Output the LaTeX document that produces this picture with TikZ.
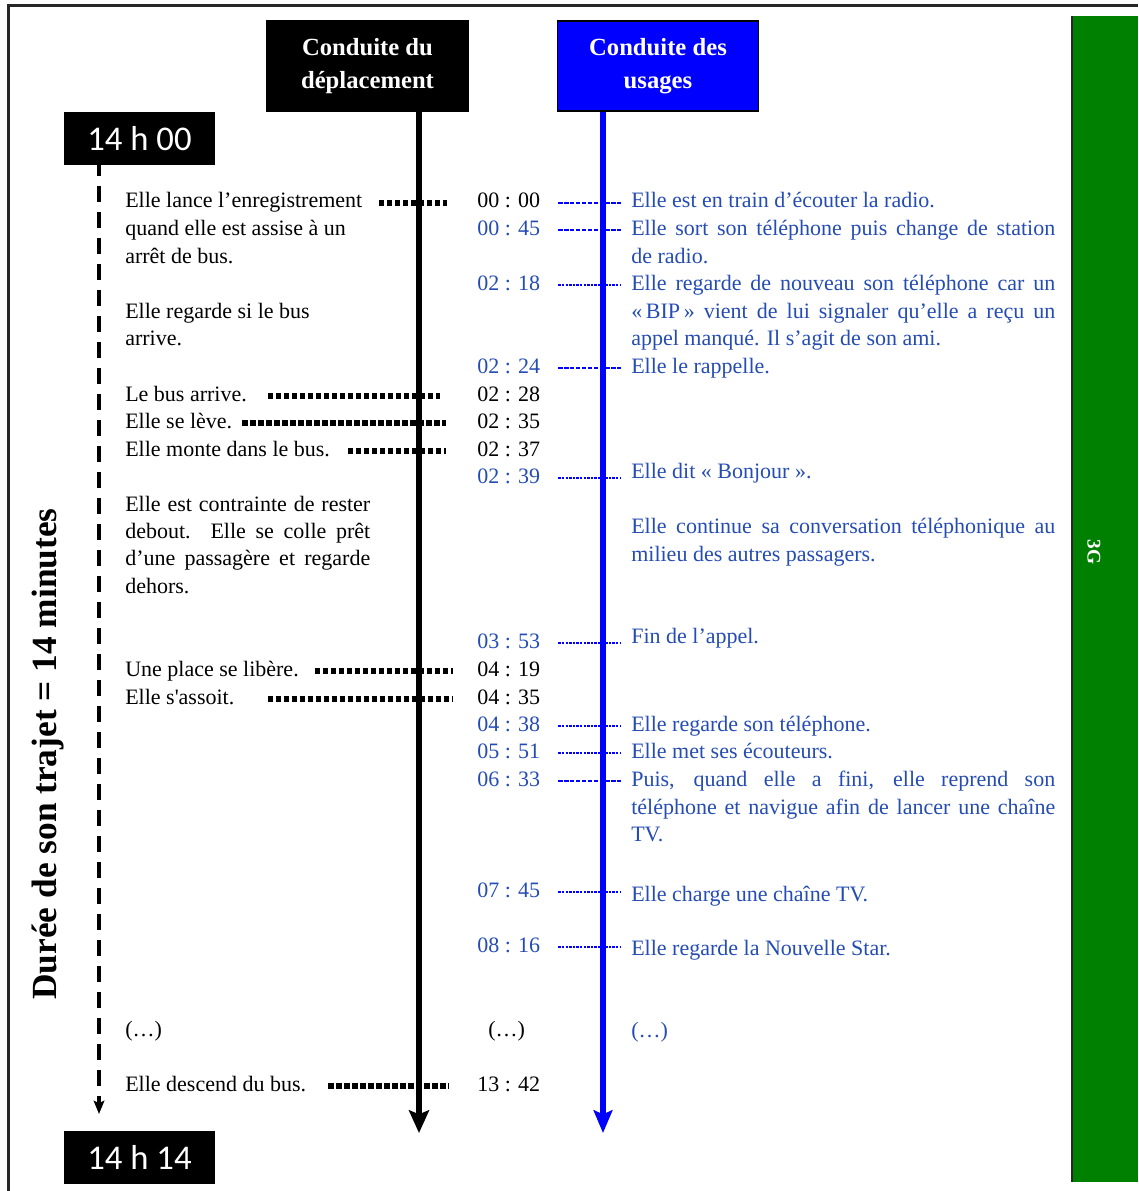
\documentclass[tikz,border=0pt]{standalone}
\usepackage{fontspec}
\setmainfont{Liberation Serif}
\newfontfamily\plainserif{Liberation Serif}
\newfontfamily\clockfont{Carlito}
\usetikzlibrary{arrows.meta}
\definecolor{tblue}{RGB}{36,76,178}
\definecolor{barblue}{RGB}{0,0,255}
\definecolor{bargreen}{RGB}{0,128,0}
\newcommand\bodyfont{\fontsize{16.5}{20}\selectfont}
\newcommand\jleft[1]{\makebox[183.75pt][s]{#1}}
\newcommand\jright[1]{\makebox[318pt][s]{#1}}
\begin{document}
\begin{tikzpicture}[x=0.75pt,y=-0.75pt,
  txt/.style={anchor=base west, inner sep=0pt, font=\bodyfont, text height=11pt, text depth=3.5pt},
  kt/.style={txt, text=black},
  bt/.style={txt, text=tblue},
  kdots/.style={line width=3.8pt, dash pattern=on 3.9pt off 2.1pt, black},
  bdash/.style={line width=2.1pt, dash pattern=on 3.2pt off 1.2pt, barblue, shorten <=13.5pt, shorten >=7.5pt},
  bdot/.style={line width=2.1pt, dash pattern=on 1.8pt off 0.9pt, barblue, shorten <=13.5pt, shorten >=7.5pt},
  headbox/.style={draw=black, line width=0.8pt, minimum width=150.75pt, minimum height=67.5pt, inner sep=0pt, align=center, text=white, font=\fontsize{18.5}{24.75}\selectfont\bfseries},
  clockbox/.style={fill=black, minimum width=113.25pt, minimum height=40pt, inner sep=0pt, text=white, font=\clockfont\fontsize{26}{30}\selectfont},
]
\useasboundingbox (0,0) rectangle (1138,1191);
% frame
\draw[line width=1.6pt, black!85] (8.5,1191) -- (8.5,5.5) -- (1138,5.5);
% green bar
\fill[bargreen] (1072,16) rectangle (1138,1182);
\draw[line width=1.5pt, black!85] (1072,16) -- (1072,1182);
\node[rotate=-90, text=white, font=\fontsize{14.5}{16}\selectfont\bfseries] (g3) at (1094,552) {3G};

% main timelines
\coordinate (ktop) at (419,100);
\coordinate (kbot) at (419,1133);
\coordinate (btop) at (603,100);
\coordinate (bbot) at (603,1133);
\coordinate (ltop) at (99,160);
\coordinate (lbot) at (99,1114);
\draw[line width=4.5pt, black, -{Stealth[length=17pt,width=15pt,inset=3pt]}] (ktop) -- (kbot);
\draw[line width=4pt, barblue, -{Stealth[length=17pt,width=14pt,inset=3pt]}] (btop) -- (bbot);
\draw[line width=3pt, black, dash pattern=on 12pt off 7.5pt, -{Stealth[length=10pt,width=8pt,inset=2pt]}] (ltop) -- (lbot);

% header boxes
\node[headbox, fill=black] (hdep) at (367.5,66) {Conduite du\\déplacement};
\node[headbox, fill=barblue] (hus) at (658,66) {Conduite des\\usages};
\node[clockbox] (c1) at (139.5,138.5) {14 h 00};
\node[clockbox] (c2) at (139.5,1157.5) {14 h 14};

% vertical title
\node[rotate=90, font=\fontsize{26.5}{30}\selectfont\bfseries] (duree) at (48,754) {Durée de son trajet = 14 minutes};

% left texts
\node[kt] (n1a) at (125,208) {Elle lance l’enregistrement};
\node[kt] (n1b) at (125,235) {quand elle est assise à un};
\node[kt] (n1c) at (125,263) {arrêt de bus.};
\node[kt] (n2a) at (125,318) {Elle regarde si le bus};
\node[kt] (n2b) at (125,345) {arrive.};
\node[kt] (n3) at (125,401) {Le bus arrive.};
\node[kt] (n4) at (125,428) {Elle se lève.};
\node[kt] (n5) at (125,456) {Elle monte dans le bus.};
\node[kt] (n6a) at (125,511) {\jleft{Elle est contrainte de rester}};
\node[kt] (n6b) at (125,538) {\jleft{debout. Elle se colle prêt}};
\node[kt] (n6c) at (125,565) {\jleft{d’une passagère et regarde}};
\node[kt] (n6d) at (125,593) {dehors.};
\node[kt] (n7) at (125,676) {Une place se libère.};
\node[kt] (n8) at (125,704) {Elle s{\plainserif '}assoit.};
\node[kt] (n9) at (125,1036) {(…)};
\node[kt] (n10) at (125,1091) {Elle descend du bus.};

% time labels
\node[kt] (t0000) at (477,208) {00 : 00};
\node[bt] (t0045) at (477,235) {00 : 45};
\node[bt] (t0218) at (477,290) {02 : 18};
\node[bt] (t0224) at (477,373) {02 : 24};
\node[kt] (t0228) at (477,401) {02 : 28};
\node[kt] (t0235) at (477,428) {02 : 35};
\node[kt] (t0237) at (477,456) {02 : 37};
\node[bt] (t0239) at (477,483) {02 : 39};
\node[bt] (t0353) at (477,648) {03 : 53};
\node[kt] (t0419) at (477,676) {04 : 19};
\node[kt] (t0435) at (477,704) {04 : 35};
\node[bt] (t0438) at (477,731) {04 : 38};
\node[bt] (t0551) at (477,758) {05 : 51};
\node[bt] (t0633) at (477,786) {06 : 33};
\node[bt] (t0745) at (477,897) {07 : 45};
\node[bt] (t0816) at (477,952) {08 : 16};
\node[kt] (tdots) at (488,1036) {(…)};
\node[kt] (t1342) at (477,1091) {13 : 42};

% right texts
\node[bt] (r1) at (631,208) {Elle est en train d’écouter la radio.};
\node[bt] (r2a) at (631,235) {\jright{Elle sort son téléphone puis change de station}};
\node[bt] (r2b) at (631,263) {de radio.};
\node[bt] (r3a) at (631,290) {\jright{Elle regarde de nouveau son téléphone car un}};
\node[bt] (r3b) at (631,318) {\jright{«\,BIP\,» vient de lui signaler qu’elle a reçu un}};
\node[bt] (r3c) at (631,345) {appel manqué. Il s’agit de son ami.};
\node[bt] (r4) at (631,373) {Elle le rappelle.};
\node[bt] (r5) at (631,478) {Elle dit « Bonjour ».};
\node[bt] (r6a) at (631,533) {\jright{Elle continue sa conversation téléphonique au}};
\node[bt] (r6b) at (631,561) {milieu des autres passagers.};
\node[bt] (r7) at (631,643) {Fin de l’appel.};
\node[bt] (r8) at (631,731) {Elle regarde son téléphone.};
\node[bt] (r9) at (631,758) {Elle met ses écouteurs.};
\node[bt] (r10a) at (631,786) {\jright{Puis, quand elle a fini, elle reprend son}};
\node[bt] (r10b) at (631,814) {\jright{téléphone et navigue afin de lancer une chaîne}};
\node[bt] (r10c) at (631,841) {TV.};
\node[bt] (r11) at (631,901) {Elle charge une chaîne TV.};
\node[bt] (r12) at (631,955) {Elle regarde la Nouvelle Star.};
\node[bt] (r13) at (631,1037) {(…)};

% black leaders
\draw[kdots, shorten <=12pt, shorten >=22.5pt] (n1a.east) -- (n1a.east -| t0000.west);
\draw[kdots, shorten <=15.75pt, shorten >=27.75pt] (n3.east) -- (n3.east -| t0228.west);
\draw[kdots, shorten <=7.5pt, shorten >=23.25pt] (n4.east) -- (n4.east -| t0235.west);
\draw[kdots, shorten <=13.5pt, shorten >=23.25pt] (n5.east) -- (n5.east -| t0237.west);
\draw[kdots, shorten <=12pt, shorten >=18pt] (n7.east) -- (n7.east -| t0419.west);
\draw[kdots, shorten <=24.75pt, shorten >=18pt] (n8.east) -- (n8.east -| t0435.west);
\draw[kdots, shorten <=16.5pt, shorten >=21pt] (n10.east) -- (n10.east -| t1342.west);

% blue leaders
\draw[bdash] (t0000.east) -- (t0000.east -| r1.west);
\draw[bdash] (t0045.east) -- (t0045.east -| r2a.west);
\draw[bdot] (t0218.east) -- (t0218.east -| r3a.west);
\draw[bdash] (t0224.east) -- (t0224.east -| r4.west);
\draw[bdot] (t0239.east) -- (t0239.east -| r5.west);
\draw[bdot] (t0353.east) -- (t0353.east -| r7.west);
\draw[bdot] (t0438.east) -- (t0438.east -| r8.west);
\draw[bdot] (t0551.east) -- (t0551.east -| r9.west);
\draw[bdash] (t0633.east) -- (t0633.east -| r10a.west);
\draw[bdot] (t0745.east) -- (t0745.east -| r11.west);
\draw[bdot] (t0816.east) -- (t0816.east -| r12.west);
\end{tikzpicture}
\end{document}
